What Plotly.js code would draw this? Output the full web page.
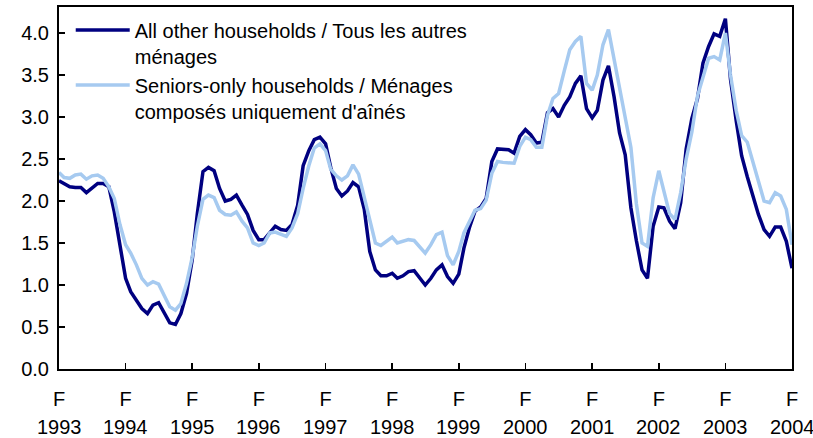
<!DOCTYPE html>
<html>
<head>
<meta charset="utf-8">
<script src="https://cdn.plot.ly/plotly-3.0.1.min.js"></script>
<style>html,body{margin:0;padding:0;background:#fff;}#chart{width:813px;height:438px;}</style>
</head>
<body>
<div id="chart"></div>
<script>
// Monthly series, February 1993 to February 2004
var startYear = 1993, startMonth = 2;
var otherHouseholds = [
  2.24, 2.21, 2.17, 2.16, 2.16, 2.10, 2.16, 2.21, 2.21, 2.17,
  1.87, 1.50, 1.08, 0.92, 0.82, 0.72, 0.66, 0.76, 0.79, 0.66,
  0.55, 0.53, 0.66, 0.90, 1.30, 1.85, 2.35, 2.40, 2.36, 2.15,
  2.00, 2.02, 2.07, 1.95, 1.84, 1.65, 1.54, 1.54, 1.63, 1.70,
  1.66, 1.65, 1.72, 1.95, 2.42, 2.60, 2.73, 2.76, 2.68, 2.40,
  2.15, 2.06, 2.12, 2.22, 2.17, 1.90, 1.40, 1.18, 1.11, 1.11,
  1.14, 1.08, 1.11, 1.16, 1.17, 1.08, 1.00, 1.08, 1.18, 1.24,
  1.10, 1.02, 1.13, 1.44, 1.69, 1.88, 1.93, 2.03, 2.47, 2.62,
  2.62, 2.61, 2.57, 2.77, 2.85, 2.79, 2.69, 2.70, 3.05, 3.10,
  3.00, 3.14, 3.24, 3.40, 3.49, 3.10, 2.99, 3.08, 3.44, 3.61,
  3.24, 2.81, 2.55, 1.92, 1.53, 1.18, 1.08, 1.70, 1.93, 1.92,
  1.76, 1.67, 1.98, 2.62, 2.98, 3.22, 3.64, 3.84, 3.99, 3.96,
  4.17, 3.45, 2.96, 2.54, 2.29, 2.05, 1.84, 1.66, 1.58, 1.69,
  1.69, 1.52, 1.20
];
var seniorsOnly = [
  2.34, 2.28, 2.27, 2.31, 2.32, 2.26, 2.30, 2.31, 2.27, 2.17,
  2.03, 1.72, 1.48, 1.38, 1.24, 1.08, 1.00, 1.04, 1.01, 0.88,
  0.74, 0.70, 0.78, 1.02, 1.33, 1.70, 2.02, 2.07, 2.04, 1.89,
  1.84, 1.83, 1.87, 1.76, 1.68, 1.50, 1.47, 1.50, 1.62, 1.63,
  1.60, 1.58, 1.68, 1.85, 2.15, 2.42, 2.63, 2.68, 2.60, 2.38,
  2.30, 2.25, 2.30, 2.43, 2.32, 2.03, 1.78, 1.50, 1.47, 1.52,
  1.57, 1.50, 1.52, 1.54, 1.53, 1.46, 1.38, 1.48, 1.60, 1.63,
  1.35, 1.24, 1.40, 1.62, 1.77, 1.89, 1.91, 2.01, 2.33, 2.47,
  2.46, 2.46, 2.45, 2.65, 2.76, 2.73, 2.64, 2.64, 3.02, 3.22,
  3.28, 3.55, 3.80, 3.90, 3.96, 3.40, 3.32, 3.50, 3.86, 4.04,
  3.68, 3.32, 2.98, 2.64, 1.97, 1.50, 1.46, 2.04, 2.36, 2.12,
  1.85, 1.78, 2.10, 2.50, 2.82, 3.25, 3.48, 3.70, 3.72, 3.68,
  4.00, 3.50, 3.08, 2.78, 2.70, 2.47, 2.25, 2.00, 1.98, 2.10,
  2.06, 1.90, 1.48
];
var tickYears = [1993, 1994, 1995, 1996, 1997, 1998, 1999, 2000, 2001, 2002, 2003, 2004];
var tickMonthLabel = 'F';
var seriesNames = [
  'All other households / Tous les autres<br>ménages',
  'Seniors-only households / Ménages<br>composés uniquement d\'aînés'
];

function pad(n){ return (n < 10 ? '0' : '') + n; }
var months = otherHouseholds.map(function(_, k){
  var m0 = startMonth - 1 + k;
  return (startYear + Math.floor(m0 / 12)) + '-' + pad((m0 % 12) + 1) + '-01';
});
var tickVals = tickYears.map(function(y){ return y + '-' + pad(startMonth) + '-01'; });
var tickText = tickYears.map(function(){ return tickMonthLabel; });

var font = 'Liberation Sans, Arial, sans-serif';
var traces = [
  {x: months, y: otherHouseholds, type: 'scatter', mode: 'lines', name: seriesNames[0],
   line: {color: '#000080', width: 3.5}},
  {x: months, y: seniorsOnly, type: 'scatter', mode: 'lines', name: seriesNames[1],
   line: {color: '#a6caf0', width: 3.5}}
];
var annotations = tickYears.map(function(y, i){
  return {x: tickVals[i], xref: 'x', y: -0.16, yref: 'paper', yanchor: 'middle', xanchor: 'center',
          text: String(y), showarrow: false, font: {family: font, size: 20, color: '#000'}};
});
var layout = {
  width: 813, height: 438,
  margin: {l: 59, r: 21, t: 7, b: 69},
  paper_bgcolor: '#fff', plot_bgcolor: '#fff',
  font: {family: font, size: 20, color: '#000'},
  showlegend: true,
  legend: {x: 0.016, y: 0.99, xanchor: 'left', yanchor: 'top', bgcolor: 'rgba(0,0,0,0)',
           borderwidth: 0, valign: 'top', tracegroupgap: 0, itemwidth: 54,
           font: {family: font, size: 20, color: '#000'}},
  xaxis: {type: 'date', range: [tickVals[0], tickVals[tickVals.length - 1]],
          tickmode: 'array', tickvals: tickVals, ticktext: tickText,
          ticks: 'inside', ticklen: 6, tickwidth: 1.5, tickcolor: '#000',
          ticklabelstandoff: 11,
          showline: true, linecolor: '#000', linewidth: 2, mirror: true,
          showgrid: false, zeroline: false, tickfont: {family: font, size: 20, color: '#000'}},
  yaxis: {range: [0, 4.31], dtick: 0.5, tick0: 0, tickformat: '.1f',
          ticks: 'inside', ticklen: 6, tickwidth: 1.5, tickcolor: '#000',
          ticklabelstandoff: 4,
          showline: true, linecolor: '#000', linewidth: 2, mirror: true,
          showgrid: false, zeroline: false, tickfont: {family: font, size: 20, color: '#000'}},
  annotations: annotations
};
Plotly.newPlot('chart', traces, layout, {staticPlot: true, displayModeBar: false});
</script>
</body>
</html>
